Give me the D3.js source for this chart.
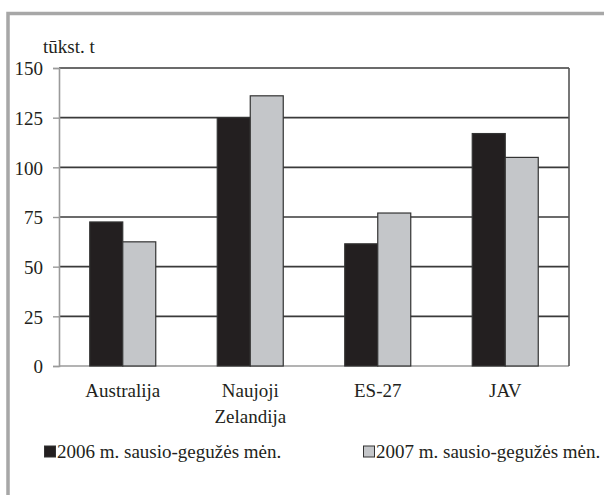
<!DOCTYPE html>
<html>
<head>
<meta charset="utf-8">
<script src="https://cdn.jsdelivr.net/npm/d3@7"></script>
<style>
  body { margin: 0; background: #fff; }
</style>
</head>
<body>
<div id="viz"></div>
<script>
// data
const categories = [["Australija"], ["Naujoji", "Zelandija"], ["ES-27"], ["JAV"]];
const series = ["2006 m. sausio-gegužės mėn.", "2007 m. sausio-gegužės mėn."];
const values2006 = [72.5, 125, 61.5, 117];
const values2007 = [62.5, 136, 77, 105];
const yTicks = [0, 25, 50, 75, 100, 125, 150];
const unitLabel = "tūkst. t";

const colors = ["#231f20", "#c4c6c9"];
const FONT = "'Liberation Serif', 'Times New Roman', Times, 'DejaVu Serif', serif";
const FS = "19px";

const svg = d3.select("#viz")
              .append("svg")
              .attr("width", 604)
              .attr("height", 495)
              .style("font-family", FONT);

// grey frame, clipped by the window at right and bottom
svg.append("rect")
   .attr("x", 8)
   .attr("y", 13.5)
   .attr("width", 700)
   .attr("height", 600)
   .attr("fill", "none")
   .attr("stroke", "#a7a7a7")
   .attr("stroke-width", 3.5);

const margin = { top: 68, left: 59 };
const width = 569 - 59;
const height = 366 - 68;

const keys = categories.map(d => d.join(" "));

const x = d3.scaleBand()
            .domain(keys)
            .range([0, width]);

const x1 = d3.scaleBand()
             .domain(series)
             .range([x.bandwidth() / 2 - 33, x.bandwidth() / 2 + 33]);

const y = d3.scaleLinear()
            .domain([0, 150])
            .range([height, 0]);

const g = svg.append("g").attr("transform", `translate(${margin.left},${margin.top})`);

// grid lines
g.selectAll(".grid")
 .data(yTicks)
 .enter()
 .append("line")
 .attr("x1", 0)
 .attr("x2", width)
 .attr("y1", d => y(d))
 .attr("y2", d => y(d))
 .attr("stroke", d => d === 0 ? "#9a9a9a" : "#3a3a3a")
 .attr("stroke-width", 1.6);

// y axis
const yAxis = g.append("g")
               .call(d3.axisLeft(y).tickValues(yTicks).tickSize(6).tickPadding(10));
yAxis.attr("font-family", null).attr("font-size", null);
yAxis.select(".domain").attr("stroke", "#9a9a9a").attr("stroke-width", 1.6);
yAxis.selectAll(".tick line").attr("stroke", "#9a9a9a").attr("stroke-width", 1.4);
yAxis.selectAll(".tick text")
     .attr("fill", "#231f20")
     .style("font-size", FS)
     .style("font-family", FONT)
     .attr("dy", "0.36em");

// right border
g.append("line")
 .attr("x1", width).attr("x2", width)
 .attr("y1", 0).attr("y2", height)
 .attr("stroke", "#555")
 .attr("stroke-width", 1.6);

// bars
const rows = keys.map((k, i) => ({ key: k, vals: [values2006[i], values2007[i]] }));

const groups = g.selectAll(".grp")
                .data(rows)
                .enter()
                .append("g")
                .attr("transform", d => `translate(${x(d.key)},0)`);

groups.selectAll("rect")
      .data(d => d.vals.map((v, j) => ({ s: series[j], v: v, j: j })))
      .enter()
      .append("rect")
      .attr("x", d => x1(d.s))
      .attr("y", d => y(d.v))
      .attr("width", x1.bandwidth())
      .attr("height", d => height - y(d.v))
      .attr("fill", d => colors[d.j])
      .attr("stroke", "#333")
      .attr("stroke-width", 1.2);

// category labels
const labels = g.selectAll(".cat")
                .data(categories)
                .enter()
                .append("text")
                .attr("text-anchor", "middle")
                .attr("x", (d, i) => x(keys[i]) + x.bandwidth() / 2)
                .attr("y", height + 31)
                .attr("fill", "#231f20")
                .style("font-family", FONT)
                .style("font-size", FS);

labels.selectAll("tspan")
      .data(d => d)
      .enter()
      .append("tspan")
      .attr("x", function () { return d3.select(this.parentNode).attr("x"); })
      .attr("dy", (d, i) => i === 0 ? 0 : 26)
      .text(d => d);

// unit label
svg.append("text")
   .attr("x", 43)
   .attr("y", 53)
   .attr("fill", "#231f20")
   .style("font-family", FONT)
   .style("font-size", FS)
   .text(unitLabel);

// legend
const legendX = [44, 363];
const legend = svg.selectAll(".leg")
                  .data(series)
                  .enter()
                  .append("g")
                  .attr("transform", (d, i) => `translate(${legendX[i]},445.5)`);

legend.append("rect")
      .attr("x", 0.5)
      .attr("y", 0.5)
      .attr("width", 11)
      .attr("height", 11)
      .attr("fill", (d, i) => colors[i])
      .attr("stroke", "#333")
      .attr("stroke-width", 1);

legend.append("text")
      .attr("x", 13)
      .attr("y", 12)
      .attr("fill", "#231f20")
      .style("font-family", FONT)
      .style("font-size", FS)
      .text(d => d);
</script>
</body>
</html>
